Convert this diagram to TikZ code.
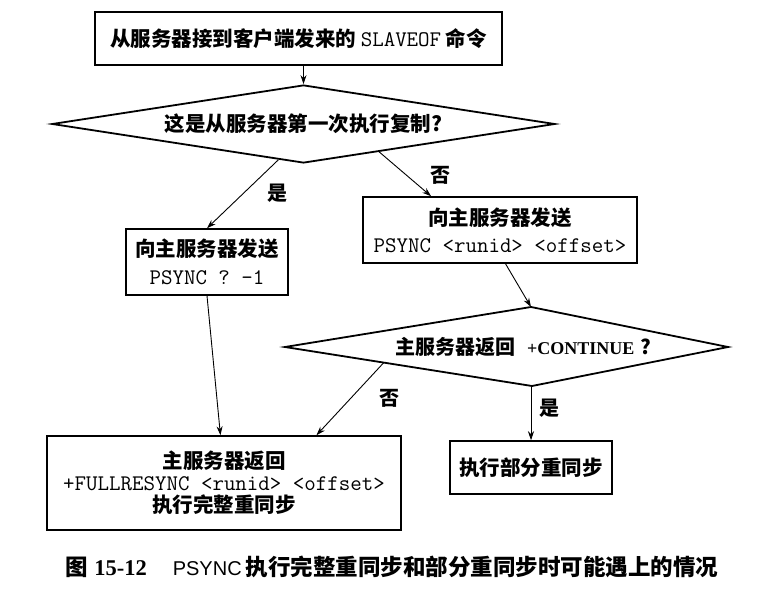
\documentclass[tikz,border=0pt]{standalone}
\usepackage{fontspec}
\usepackage{tikz}
\usetikzlibrary{shapes.geometric,arrows.meta,calc}
\setmainfont{Noto Sans CJK SC}
\newfontfamily\latinserif{Liberation Serif}
\newfontfamily\latinsans{Liberation Sans}
\newcommand\codetxt[1]{{\mdseries\ttfamily\fontsize{22.3}{23}\selectfont #1}}

\tikzset{
  flowbox/.style={draw, line width=1.5pt, rectangle, align=center, inner sep=0pt,
    font=\fontsize{20.5}{23}\selectfont\bfseries},
  decision/.style={draw, line width=1.8pt, diamond, aspect=6.45, inner sep=0pt,
    font=\fontsize{20.5}{23}\selectfont\bfseries},
  flow/.style={-{Stealth[length=9pt,width=6pt]}, line width=0.9pt},
  answer/.style={font=\fontsize{20}{23}\selectfont\bfseries}
}

\begin{document}
\begin{tikzpicture}[x=1pt, y=-1pt]
  \useasboundingbox (0,0) rectangle (771,594);

  % SLAVEOF received
  \node[flowbox, minimum width=407, minimum height=53] (slaveof) at (298.5,38.5)
    {从服务器接到客户端发来的 \codetxt{SLAVEOF} 命令};

  % first replication?
  \node[decision, minimum width=503, minimum height=78] (first) at (303.5,124)
    {这是从服务器第一次执行复制?};

  % PSYNC ? -1
  \node[flowbox, minimum width=162, minimum height=66] (psyncfull) at (207,262)
    {向主服务器发送\\[5pt]\codetxt{PSYNC ? -1}};

  % PSYNC <runid> <offset>
  \node[flowbox, minimum width=274, minimum height=66] (psyncpart) at (500,230)
    {向主服务器发送\\[4pt]\codetxt{PSYNC <runid> <offset>}};

  % +CONTINUE?
  \coordinate (conttop) at (531,307);
  \coordinate (contright) at (728,347);
  \coordinate (contbottom) at (532,386);
  \coordinate (contleft) at (285,347);
  \draw[line width=1.8pt] (conttop) -- (contright) -- (contbottom) -- (contleft) -- cycle;
  \node[answer] (conttext) at (523,347)
    {主服务器返回\hspace{12pt}{\latinserif\fontsize{18}{22}\selectfont +CONTINUE}\hspace{6pt}?};

  % full resync
  \node[flowbox, minimum width=354, minimum height=94] (fullsync) at (224,483)
    {主服务器返回\\[-1pt]\codetxt{+FULLRESYNC <runid> <offset>}\\[-1pt]执行完整重同步};

  % partial resync
  \node[flowbox, minimum width=162, minimum height=53] (partsync) at (531,467.5)
    {执行部分重同步};

  % arrows
  \draw[flow] (first.north |- slaveof.south) -- (first.north);
  \draw[flow] ($(first.south)!0.1!(first.west)$) -- (psyncfull.north);
  \draw[flow] ($(first.south)!0.3!(first.east)$) -- ($(psyncpart.north west)!0.25!(psyncpart.north east)$);
  \draw[flow] ($(psyncpart.south west)!0.52!(psyncpart.south east)$) -- (conttop);
  \draw[flow] (psyncfull.south) -- ($(fullsync.north west)!0.49!(fullsync.north east)$);
  \draw[flow] ($(contbottom)!0.6!(contleft)$) -- ($(fullsync.north west)!0.76!(fullsync.north east)$);
  \draw[flow] (contbottom) -- (partsync.north |- contbottom) -- (partsync.north);

  % yes / no
  \node[answer] (yes1) at (277,193) {是};
  \node[answer] (no1) at (440,175) {否};
  \node[answer] (no2) at (389,398) {否};
  \node[answer] (yes2) at (549,408) {是};

  % caption
  \node[font=\fontsize{22.5}{26}\selectfont\bfseries] (caption) at (392,567)
    {图\hspace{6pt}{\latinserif 15-12}\hspace{26pt}{\mdseries\latinsans\fontsize{20}{24}\selectfont PSYNC}\hspace{4pt}执行完整重同步和部分重同步时可能遇上的情况};
\end{tikzpicture}
\end{document}
